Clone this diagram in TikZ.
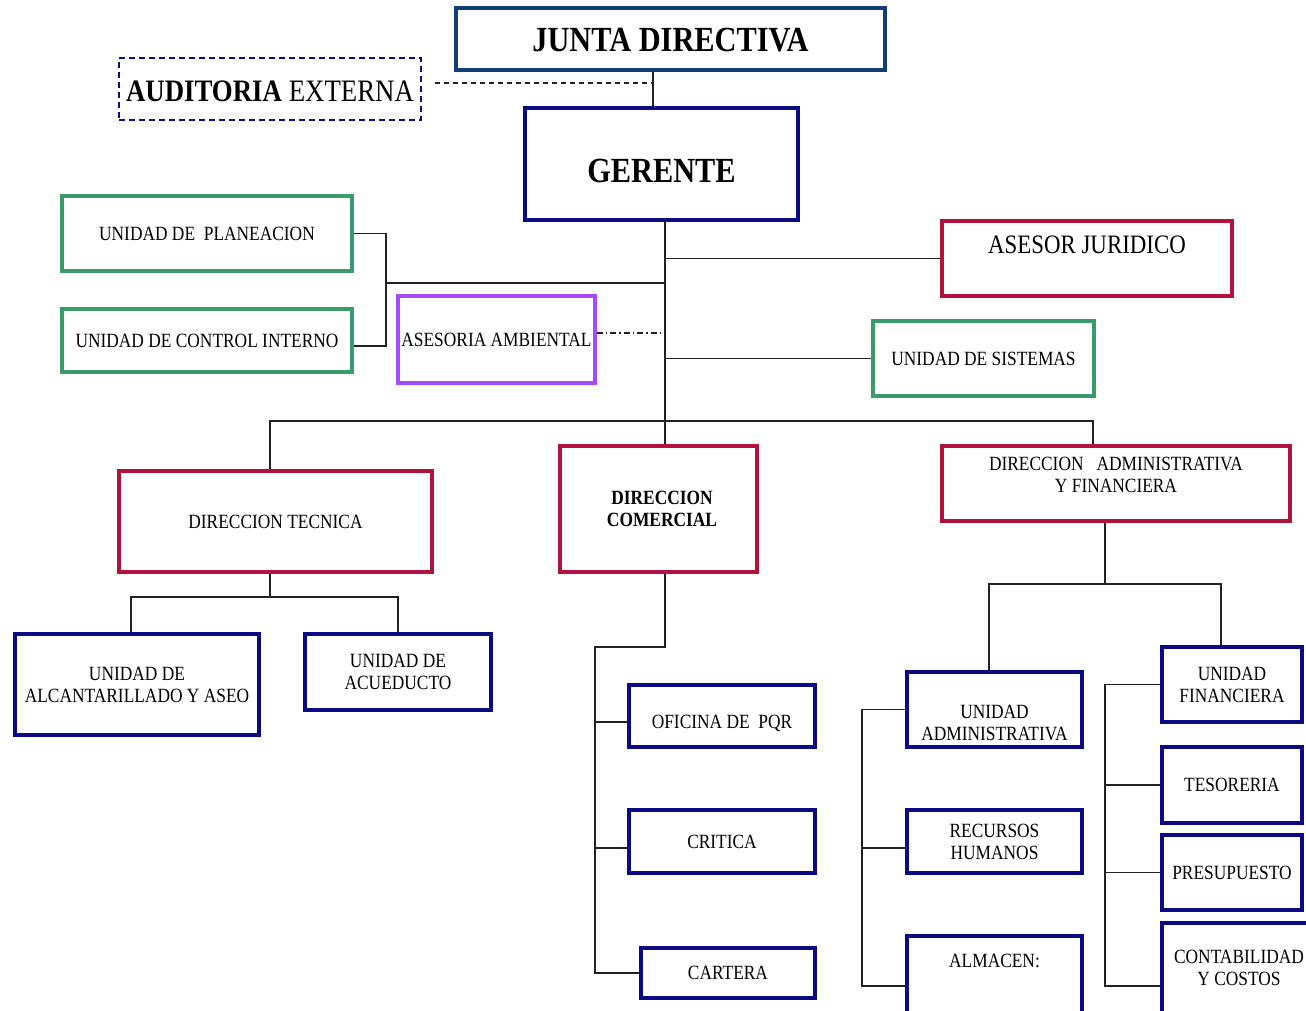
\documentclass[tikz,border=0pt]{standalone}
\usepackage{fontspec}
\setmainfont{Liberation Serif}[FakeStretch=0.86]
\definecolor{jdblue}{HTML}{123F73}
\definecolor{navy}{HTML}{0A0A85}
\definecolor{grn}{HTML}{3A9C6A}
\definecolor{crim}{HTML}{B0123C}
\definecolor{purp}{HTML}{A44BFF}
\definecolor{lnk}{HTML}{222222}
\begin{document}
\begin{tikzpicture}[x=1pt,y=-1pt,
  box/.style={draw=#1, line width=3.1pt, rectangle, inner sep=2pt, align=center,
    font=\fontsize{20.2}{22}\selectfont, text=black},
  txt/.style={align=center, font=\fontsize{20.2}{22}\selectfont, text=black, inner sep=0pt},
  link/.style={draw=lnk, line width=1.2pt}]
\useasboundingbox (0,0) rectangle (1306,1010);
\clip (0,0) rectangle (1306,1010);
\fill[white] (0,0) rectangle (1306,1010);

% ---- boxes ----
\node[box=jdblue, minimum width=429pt, minimum height=62pt,
  label={[txt, font=\bfseries\fontsize{35.3}{38}\selectfont, yshift=-1pt]center:JUNTA DIRECTIVA}] (junta) at (670.5,39) {};
\node[box=navy, line width=2.2pt, dash pattern=on 6pt off 4pt, minimum width=302pt, minimum height=62pt,
  label={[txt, font=\fontsize{31.2}{34}\selectfont, yshift=-2pt]center:\textbf{AUDITORIA} EXTERNA}] (audit) at (270,89) {};
\node[box=navy, minimum width=273pt, minimum height=112pt,
  label={[txt, font=\bfseries\fontsize{35.3}{38}\selectfont, yshift=-7pt]center:GERENTE}] (gerente) at (661.5,164) {};

\node[box=grn, minimum width=290pt, minimum height=75pt] (plan) at (207,233.5) {UNIDAD DE\ \ PLANEACION};
\node[box=grn, minimum width=290pt, minimum height=63pt] (ctrl) at (207,340.5) {UNIDAD DE CONTROL INTERNO};
\node[box=purp, minimum width=197pt, minimum height=87pt] (amb) at (496.5,339.5) {ASESORIA AMBIENTAL};
\node[box=crim, minimum width=290pt, minimum height=75pt,
  label={[txt, font=\fontsize{26.6}{30}\selectfont, yshift=13.5pt]center:ASESOR JURIDICO}] (aj) at (1087,258.5) {};
\node[box=grn, minimum width=221pt, minimum height=75pt] (sis) at (983.5,358.5) {UNIDAD DE SISTEMAS};

\node[box=crim, minimum width=313pt, minimum height=101pt] (dt) at (275.5,521.5) {DIRECCION TECNICA};
\node[box=crim, minimum width=197pt, minimum height=126pt,
  label={[txt, font=\bfseries\fontsize{20.2}{22}\selectfont, xshift=3.5pt]center:DIRECCION\\COMERCIAL}] (dc) at (658.5,509) {};
\node[box=crim, minimum width=348pt, minimum height=75pt,
  label={[txt, yshift=8.5pt]center:DIRECCION\ \ \ ADMINISTRATIVA\\Y FINANCIERA}] (daf) at (1116,483.5) {};

\node[box=navy, minimum width=244pt, minimum height=101pt] (alc) at (137,684.5) {UNIDAD DE\\ALCANTARILLADO Y ASEO};
\node[box=navy, minimum width=186pt, minimum height=76pt] (acu) at (398,672) {UNIDAD DE\\ACUEDUCTO};

\node[box=navy, minimum width=186pt, minimum height=62pt,
  label={[txt, yshift=-7pt]center:OFICINA DE\ \ PQR}] (pqr) at (722,716) {};
\node[box=navy, minimum width=186pt, minimum height=63pt] (crit) at (722,841.5) {CRITICA};
\node[box=navy, minimum width=174pt, minimum height=50pt] (cart) at (728,973) {CARTERA};

\node[box=navy, minimum width=175pt, minimum height=75pt,
  label={[txt, yshift=-13.5pt]center:UNIDAD\\ADMINISTRATIVA}] (uadm) at (994.5,709.5) {};
\node[box=navy, minimum width=175pt, minimum height=63pt] (rrhh) at (994.5,841.5) {RECURSOS\\HUMANOS};
\node[box=navy, minimum width=175pt, minimum height=94pt,
  label={[txt, yshift=22pt]center:ALMACEN:}] (alm) at (994.5,983) {};

\node[box=navy, minimum width=140pt, minimum height=75pt] (ufin) at (1232,684.5) {UNIDAD\\FINANCIERA};
\node[box=navy, minimum width=140pt, minimum height=76pt] (tes) at (1232,785) {TESORERIA};
\node[box=navy, minimum width=140pt, minimum height=75pt] (pres) at (1232,872.5) {PRESUPUESTO};
\node[box=navy, minimum width=158pt, minimum height=107pt,
  label={[txt, xshift=-2pt, yshift=8.5pt]center:CONTABILIDAD\\Y COSTOS}] (cont) at (1241,976.5) {};

% ---- junction coordinates ----
\coordinate (jx) at (653,0);
\coordinate (tx) at (665,0);
\coordinate (adl) at (435,83);
\coordinate (bx) at (386,0);
\coordinate (pj) at (386,283);
\coordinate (cte) at ([yshift=-5.5pt]ctrl.east);
\coordinate (ambe) at ([yshift=6.5pt]amb.east);
\coordinate (pqrw) at ([yshift=-6pt]pqr.west);
\coordinate (critw) at ([yshift=-6.5pt]crit.west);
\coordinate (b1) at (270,421);
\coordinate (b2) at (1093,421);
\coordinate (dtj) at (270,597);
\coordinate (dcj) at (595,647);
\coordinate (dfj) at (1105,584);
\coordinate (ux1) at (989,584);
\coordinate (ux2) at (1221,584);
\coordinate (ab1) at (862,986);
\coordinate (ab2) at (862,848);
\coordinate (fb1) at (1105,986);

% ---- connectors ----
\draw[link] (junta.south -| jx) -- (gerente.north -| jx);
\draw[link, dash pattern=on 5pt off 4pt] (adl) -- (adl -| jx);
\draw[link] (gerente.south -| tx) -- (dc.north -| tx);

\draw[link] (plan.east) -| (bx |- cte) -- (cte);
\draw[link] (pj) -- (pj -| tx);
\draw[link, dash pattern=on 6pt off 3pt on 1.5pt off 3pt] (ambe) -- (ambe -| tx);
\draw[link] (tx |- aj.west) -- (aj.west);
\draw[link] (tx |- sis.west) -- (sis.west);

\draw[link] (b1 |- dt.north) -- (b1) -- (b2) -- (b2 |- daf.north);

\draw[link] (dt.south -| dtj) -- (dtj);
\draw[link] ([xshift=-6pt]alc.north) |- (dtj) -| (acu.north);

\draw[link] (dc.south -| tx) |- (dcj) |- (cart.west);
\draw[link] (dcj |- pqrw) -- (pqrw);
\draw[link] (dcj |- critw) -- (critw);

\draw[link] (daf.south -| dfj) -- (dfj);
\draw[link] (ux1 |- uadm.north) -- (ux1) -- (ux2) -- (ux2 |- ufin.north);

\draw[link] (uadm.west) -| (ab1) -- (ab1 -| alm.west);
\draw[link] (ab2) -- (ab2 -| rrhh.west);

\draw[link] (ufin.west) -| (fb1) -- (fb1 -| cont.west);
\draw[link] (fb1 |- tes.west) -- (tes.west);
\draw[link] (fb1 |- pres.west) -- (pres.west);
\end{tikzpicture}
\end{document}
